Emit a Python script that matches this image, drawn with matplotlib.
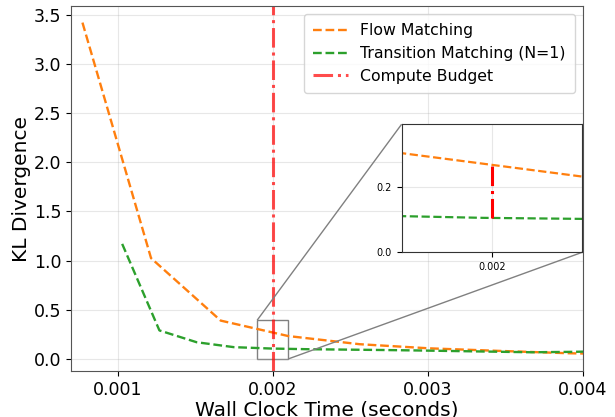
import matplotlib
matplotlib.use("Agg")
import matplotlib.pyplot as plt
from mpl_toolkits.axes_grid1.inset_locator import mark_inset

# wall clock time (s) and KL divergence
fm_time = [0.000774, 0.001216, 0.001665, 0.00210, 0.00256, 0.00301, 0.00346, 0.00391, 0.00436]
fm_kl = [3.42, 1.025, 0.39, 0.233, 0.150, 0.108, 0.082, 0.058, 0.045]

tm_time = [0.00103, 0.00127, 0.00151, 0.00175, 0.00199, 0.00223, 0.00247,
           0.00271, 0.00295, 0.00319, 0.00343, 0.00367, 0.00391, 0.00415]
tm_kl = [1.17, 0.29, 0.170, 0.120, 0.106, 0.099, 0.095,
         0.091, 0.086, 0.080, 0.074, 0.068, 0.072, 0.078]

budget = 0.002
fm_at_budget = 0.269
tm_at_budget = 0.106

fig = plt.figure(figsize=(6.15, 4.17), dpi=100)
ax = fig.add_axes([0.1154, 0.110, 0.8326, 0.8756])

ax.plot(fm_time, fm_kl, "--", color="#ff7f0e", lw=1.7, label="Flow Matching")
ax.plot(tm_time, tm_kl, "--", color="#2ca02c", lw=1.7, label="Transition Matching (N=1)")
ax.axvline(budget, color="red", alpha=0.7, ls="-.", lw=2.2, label="Compute Budget")

ax.set_xlim(0.0007, 0.004)
ax.set_xticks([0.001, 0.002, 0.003, 0.004])
ax.set_yticks([0.0, 0.5, 1.0, 1.5, 2.0, 2.5, 3.0, 3.5])
ax.tick_params(labelsize=12.5)
ax.set_xlabel("Wall Clock Time (seconds)", fontsize=14.5, labelpad=1)
ax.set_ylabel("KL Divergence", fontsize=14.5, labelpad=2)
ax.grid(True, alpha=0.3)
for s in ax.spines.values():
    s.set_color("#555555")
ax.legend(loc="upper right", fontsize=11.3, borderpad=0.6, handlelength=2.2)

# zoomed inset around the budget line
axins = fig.add_axes([0.653, 0.395, 0.2937, 0.307])
axins.plot(fm_time, fm_kl, "--", color="#ff7f0e", lw=1.6)
axins.plot(tm_time, tm_kl, "--", color="#2ca02c", lw=1.6)
axins.vlines(budget, tm_at_budget, fm_at_budget, colors="red", linestyles="-.", lw=2.2)
axins.set_xlim(0.0019, 0.0021)
axins.set_ylim(0.0, 0.394)
axins.set_xticks([0.002])
axins.set_yticks([0.0, 0.2])
axins.tick_params(labelsize=7)
axins.grid(True, alpha=0.3)
for s in axins.spines.values():
    s.set_color("#333333")
mark_inset(ax, axins, loc1=2, loc2=4, fc="none", ec="0.5")

fig.savefig("out.png", dpi=100)
